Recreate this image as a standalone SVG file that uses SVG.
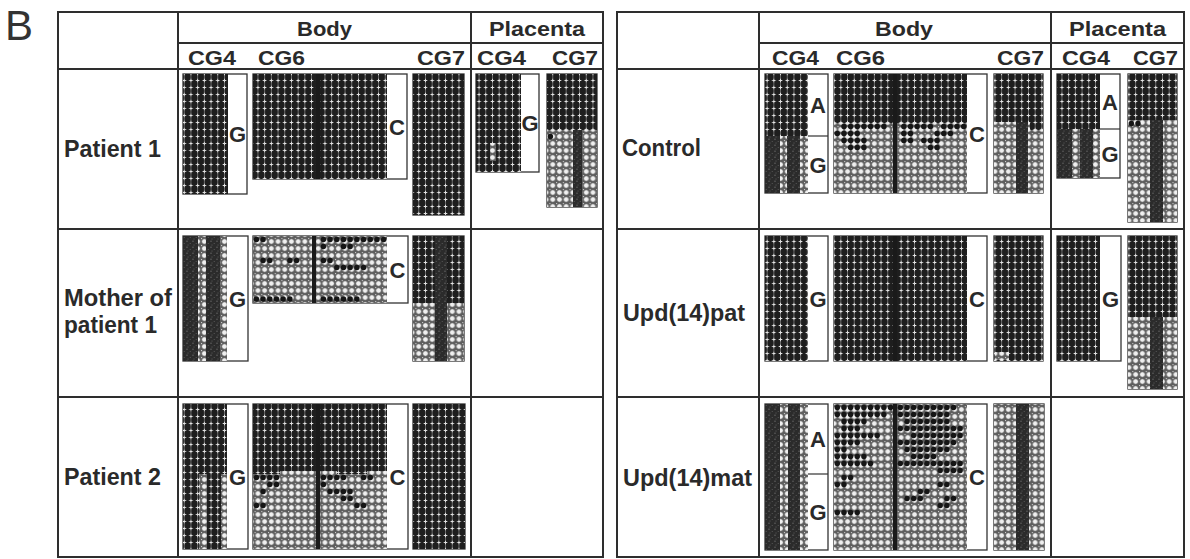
<svg xmlns="http://www.w3.org/2000/svg" width="1190" height="559" viewBox="0 0 1190 559">
<style>
.tbl{fill:none;stroke:#2e2e2e;stroke-width:2}
.box{fill:#fff;stroke:#333;stroke-width:1.3}
.met{fill:url(#met)}
.unm{fill:url(#unm)}
.dk{fill:url(#dk)}
.div{fill:#1a1a1a}
.dl{fill:none;stroke:#161616;stroke-width:5.4;stroke-linecap:round;stroke-dasharray:0 6.7}
.dr{fill:none;stroke:#161616;stroke-width:5.4;stroke-linecap:round;stroke-dasharray:0 6.65}
.hd{font-family:"Liberation Sans",Arial,sans-serif;font-weight:bold;fill:#2a2a2a}
.h1{font-size:20px;text-anchor:middle}
.h2{font-size:20px}
.lb{font-size:23px}
.lt{font-family:"Liberation Sans",Arial,sans-serif;font-weight:bold;font-size:22px;fill:#2a2a2a;text-anchor:middle}
.sep{stroke:#333;stroke-width:1.2}
</style>
<defs>
<pattern id="met" patternUnits="userSpaceOnUse" width="6.7" height="7">
<rect width="6.7" height="7" fill="#1e1e1e"/>
<path d="M3.35 0V7" stroke="#bdbdbd" stroke-width="0.5"/>
<path d="M3.35 1.8V5.2M1.6 3.5H5.1" stroke="#e4e4e4" stroke-width="1"/>
</pattern>
<pattern id="unm" patternUnits="userSpaceOnUse" width="6.7" height="7">
<rect width="6.7" height="7" fill="#5e5e5e"/>
<circle cx="3.35" cy="3.5" r="2.7" fill="#efefef" stroke="#4a4a4a" stroke-width="0.6"/>
<circle cx="0" cy="0" r="1.2" fill="#d0d0d0"/>
</pattern>
<pattern id="dk" patternUnits="userSpaceOnUse" width="6" height="6">
<rect width="6" height="6" fill="#2b2b2b"/>
<circle cx="1" cy="1.2" r="0.6" fill="#7a7a7a"/>
<circle cx="4.2" cy="3.4" r="0.5" fill="#666"/>
<circle cx="2" cy="5" r="0.45" fill="#888"/>
</pattern>
</defs>
<rect width="1190" height="559" fill="#fff"/>
<text x="5" y="40" font-family="'Liberation Sans',Arial,sans-serif" font-size="42" fill="#333">B</text>

<g id="connectors">
<rect class="tbl" x="58" y="12" width="545" height="545"/>
<path class="tbl" d="M178 12V557M471 12V557M178 43H603M58 69H603M58 229H603M58 397H603"/>
<rect class="tbl" x="617" y="12" width="567" height="545"/>
<path class="tbl" d="M759 12V557M1051 12V557M759 43H1184M617 69H1184M617 229H1184M617 397H1184"/>
</g>

<g id="headers" class="hd">
<text class="h1" x="324.5" y="36" textLength="55" lengthAdjust="spacingAndGlyphs">Body</text>
<text class="h1" x="537" y="36" textLength="96" lengthAdjust="spacingAndGlyphs">Placenta</text>
<text class="h1" x="904" y="36" textLength="58" lengthAdjust="spacingAndGlyphs">Body</text>
<text class="h1" x="1117.5" y="36" textLength="97" lengthAdjust="spacingAndGlyphs">Placenta</text>
<text class="h2" x="188" y="65" textLength="48" lengthAdjust="spacingAndGlyphs">CG4</text>
<text class="h2" x="258" y="65" textLength="47" lengthAdjust="spacingAndGlyphs">CG6</text>
<text class="h2" x="417" y="65" textLength="48" lengthAdjust="spacingAndGlyphs">CG7</text>
<text class="h2" x="477" y="65" textLength="49" lengthAdjust="spacingAndGlyphs">CG4</text>
<text class="h2" x="552" y="65" textLength="46" lengthAdjust="spacingAndGlyphs">CG7</text>
<text class="h2" x="772" y="65" textLength="47" lengthAdjust="spacingAndGlyphs">CG4</text>
<text class="h2" x="836" y="65" textLength="49" lengthAdjust="spacingAndGlyphs">CG6</text>
<text class="h2" x="997" y="65" textLength="47" lengthAdjust="spacingAndGlyphs">CG7</text>
<text class="h2" x="1062" y="65" textLength="48" lengthAdjust="spacingAndGlyphs">CG4</text>
<text class="h2" x="1133" y="65" textLength="45" lengthAdjust="spacingAndGlyphs">CG7</text>
</g>

<g id="row-labels" class="hd lb">
<text x="64" y="157" textLength="97" lengthAdjust="spacingAndGlyphs">Patient 1</text>
<text x="64" y="306" textLength="108" lengthAdjust="spacingAndGlyphs">Mother of</text>
<text x="64" y="333" textLength="93" lengthAdjust="spacingAndGlyphs">patient 1</text>
<text x="64" y="485" textLength="97" lengthAdjust="spacingAndGlyphs">Patient 2</text>
<text x="622" y="156" textLength="79" lengthAdjust="spacingAndGlyphs">Control</text>
<text x="623" y="321" textLength="122" lengthAdjust="spacingAndGlyphs">Upd(14)pat</text>
<text x="623" y="486" textLength="129" lengthAdjust="spacingAndGlyphs">Upd(14)mat</text>
</g>

<!-- Patient 1 -->
<g id="L1-body-cg4">
<rect class="box" x="183" y="74" width="64" height="120"/>
<rect class="met" x="183" y="74" width="45" height="120"/>
<text class="lt" x="237.5" y="142">G</text>
</g>
<g id="L1-body-cg6">
<rect class="box" x="253" y="74" width="154" height="105"/>
<rect class="met" x="253" y="74" width="134" height="105"/>
<rect class="div" x="316" y="74" width="4" height="105"/>
<text class="lt" x="397" y="134.5">C</text>
</g>
<g id="L1-body-cg7">
<rect class="box" x="413" y="74" width="51" height="141"/>
<rect class="met" x="413" y="74" width="51" height="141"/>
</g>
<g id="L1-pl-cg4">
<rect class="box" x="476" y="74" width="63" height="98"/>
<rect class="met" x="476" y="74" width="45" height="98"/>
<rect class="unm" x="490" y="143" width="6" height="18"/>
<text class="lt" x="530" y="131">G</text>
</g>
<g id="L1-pl-cg7">
<rect class="box" x="547" y="74" width="50" height="133"/>
<rect class="unm" x="547" y="130" width="50" height="77"/>
<rect class="met" x="547" y="74" width="50" height="56"/>
<rect class="dk" x="573" y="130" width="9" height="77"/>
<path class="dl" d="M550.4 136.5H557M590.6 136.5M550.4 150.5M563.8 157.5M590.6 164.5M550.4 178.5M590.6 185.5M557 192.5M590.6 199.5"/>
</g>

<!-- Mother of patient 1 -->
<g id="L2-body-cg4">
<rect class="box" x="183" y="236" width="65" height="125"/>
<rect class="dk" x="183" y="236" width="44" height="125"/>
<rect class="unm" x="198" y="236" width="8" height="125"/>
<rect class="unm" x="220" y="236" width="7" height="125"/>
<path class="dl" d="M202 272M202 325M223.5 266M223.5 350"/>
<text class="lt" x="237.5" y="306.5">G</text>
</g>
<g id="L2-body-cg6">
<rect class="box" x="253" y="236" width="155" height="67"/>
<rect class="unm" x="253" y="236" width="134" height="67"/>
<rect class="div" x="312" y="236" width="4" height="67"/>
<path class="dl" d="M256.4 239.5H263.1M323.4 239.5H383.7M323.4 246.5H330M343.5 246.5H356.9M377 246.5M263.1 260.5H276.5M289.9 260.5H296.6M323.4 260.5H336.8M350.2 260.5M336.8 267.5H363.6M370.3 267.5M256.4 299H289.9M323.4 299H356.9M370.3 299"/>
<text class="lt" x="397.5" y="277.5">C</text>
</g>
<g id="L2-body-cg7">
<rect class="box" x="413" y="236" width="51" height="125"/>
<rect class="unm" x="413" y="303" width="51" height="58"/>
<rect class="met" x="413" y="236" width="51" height="67"/>
<rect class="dk" x="435" y="236" width="12" height="125"/>
</g>

<!-- Patient 2 -->
<g id="L3-body-cg4">
<rect class="box" x="183" y="404" width="65" height="145"/>
<rect class="met" x="183" y="404" width="44" height="145"/>
<rect class="unm" x="199" y="474" width="8" height="75"/>
<rect class="unm" x="221" y="474" width="6" height="75"/>
<path class="dl" d="M203 492M203 520M224 483M224 505"/>
<text class="lt" x="237.5" y="484.5">G</text>
</g>
<g id="L3-body-cg6">
<rect class="box" x="253" y="404" width="155" height="145"/>
<rect class="unm" x="253" y="404" width="134" height="145"/>
<rect class="met" x="253" y="404" width="134" height="67"/>
<rect class="met" x="253" y="471" width="27" height="3"/>
<rect class="met" x="337" y="471" width="30" height="3"/>
<path class="dl" d="M256.4 477.5H276.5M289.9 477.5M323.4 477.5H343.5M363.6 477.5H377M256.4 484.5M269.8 484.5H276.5M296.6 484.5M323.4 484.5H330M350.2 484.5M377 484.5M263.1 491.5H269.8M283.2 491.5M330 491.5H350.2M370.3 491.5M269.8 498.5M283.2 498.5M296.6 498.5M323.4 498.5M343.5 498.5H350.2M363.6 498.5M377 498.5M256.4 505.5H269.8M283.2 505.5M330 505.5M356.9 505.5H370.3M383.7 505.5M283.2 512.5M336.8 512.5M363.6 512.5"/>
<rect class="div" x="316" y="404" width="4" height="145"/>
<text class="lt" x="397.5" y="484.5">C</text>
</g>
<g id="L3-body-cg7">
<rect class="box" x="413" y="404" width="52" height="145"/>
<rect class="met" x="413" y="404" width="52" height="145"/>
</g>

<!-- Control -->
<g id="R1-body-cg4">
<rect class="box" x="765" y="74" width="63" height="119"/>
<path class="sep" d="M808 136H828"/>
<rect class="met" x="765" y="74" width="43" height="62"/>
<rect class="dk" x="765" y="136" width="43" height="57"/>
<rect class="unm" x="780" y="136" width="7" height="57"/>
<rect class="unm" x="800" y="136" width="8" height="57"/>
<path class="dr" d="M783.5 145M783.5 159M803.5 166"/>
<text class="lt" x="818" y="113">A</text>
<text class="lt" x="818" y="172.5">G</text>
</g>
<g id="R1-body-cg6">
<rect class="box" x="834" y="74" width="153" height="119"/>
<rect class="unm" x="834" y="74" width="133" height="119"/>
<rect class="met" x="834" y="74" width="133" height="49"/>
<path class="dr" d="M844 126.5H883.9M903.8 126.5H930.4M943.7 126.5H963.7M837.3 133.5H857.3M877.2 133.5M903.8 133.5H917.1M937.1 133.5H957M844 140.5H870.6M903.8 140.5H910.5M923.8 140.5H943.7M850.6 147.5H863.9M930.4 147.5H937.1"/>
<rect class="div" x="893" y="74" width="4" height="119"/>
<text class="lt" x="977" y="141.5">C</text>
</g>
<g id="R1-body-cg7">
<rect class="box" x="994" y="74" width="49" height="119"/>
<rect class="unm" x="994" y="122" width="49" height="71"/>
<rect class="met" x="994" y="74" width="49" height="48"/>
<rect class="met" x="1030" y="122" width="13" height="8"/>
<rect class="dk" x="1016" y="122" width="12" height="71"/>
</g>
<g id="R1-pl-cg4">
<rect class="box" x="1057" y="74" width="63" height="104"/>
<path class="sep" d="M1100 129H1120"/>
<rect class="met" x="1057" y="74" width="43" height="55"/>
<rect class="dk" x="1057" y="129" width="43" height="49"/>
<rect class="unm" x="1072" y="129" width="8" height="49"/>
<rect class="unm" x="1093" y="129" width="7" height="49"/>
<text class="lt" x="1110" y="109.5">A</text>
<text class="lt" x="1110" y="161.5">G</text>
</g>
<g id="R1-pl-cg7">
<rect class="box" x="1128" y="74" width="49" height="148"/>
<rect class="unm" x="1128" y="120" width="49" height="102"/>
<rect class="met" x="1128" y="74" width="49" height="46"/>
<rect class="dk" x="1150" y="120" width="13" height="102"/>
<path class="dr" d="M1131.3 123.5H1144.6M1170.5 127M1170.5 134"/>
</g>

<!-- Upd(14)pat -->
<g id="R2-body-cg4">
<rect class="box" x="765" y="236" width="63" height="125"/>
<rect class="met" x="765" y="236" width="43" height="125"/>
<text class="lt" x="818" y="306.5">G</text>
</g>
<g id="R2-body-cg6">
<rect class="box" x="834" y="236" width="153" height="125"/>
<rect class="met" x="834" y="236" width="133" height="125"/>
<rect class="div" x="893" y="236" width="4" height="125"/>
<text class="lt" x="977" y="306.5">C</text>
</g>
<g id="R2-body-cg7">
<rect class="box" x="994" y="236" width="49" height="125"/>
<rect class="met" x="994" y="236" width="49" height="125"/>
<rect class="unm" x="995" y="352" width="14" height="8"/>
</g>
<g id="R2-pl-cg4">
<rect class="box" x="1057" y="236" width="64" height="125"/>
<rect class="met" x="1057" y="236" width="43" height="125"/>
<text class="lt" x="1110.5" y="306.5">G</text>
</g>
<g id="R2-pl-cg7">
<rect class="box" x="1128" y="236" width="49" height="153"/>
<rect class="unm" x="1128" y="317" width="49" height="72"/>
<rect class="met" x="1128" y="236" width="49" height="81"/>
<rect class="dk" x="1150" y="317" width="13" height="72"/>
</g>

<!-- Upd(14)mat -->
<g id="R3-body-cg4">
<rect class="box" x="765" y="404" width="63" height="146"/>
<path class="sep" d="M808 474H828"/>
<rect class="dk" x="765" y="404" width="43" height="146"/>
<rect class="unm" x="780" y="404" width="8" height="146"/>
<rect class="unm" x="800" y="404" width="8" height="146"/>
<path class="dr" d="M784 472"/>
<text class="lt" x="818" y="447">A</text>
<text class="lt" x="818" y="520">G</text>
</g>
<g id="R3-body-cg6">
<rect class="box" x="834" y="404" width="153" height="146"/>
<rect class="unm" x="834" y="404" width="133" height="146"/>
<path class="dr" d="M837.3 407.5H890.5M900.3 407.5H953.5M837.3 414.5H883.9M900.3 414.5H946.9M844 421.5H870.6M877.2 421.5M907 421.5H953.5M844 428.5H863.9M900.3 428.5H960.2M837.3 435.5H877.2M913.6 435.5H960.2M837.3 442.5H857.3M877.2 442.5M900.3 442.5H953.5M837.3 449.5H850.6M907 449.5H946.9M837.3 456.5H863.9M913.6 456.5H933.6M953.5 456.5M837.3 463.5H870.6M900.3 463.5H960.2M844 470.5M940.2 470.5H960.2M844 477.5H857.3M870.6 477.5M907 477.5M960.2 477.5M837.3 484.5H850.6M877.2 484.5M900.3 484.5M940.2 484.5H953.5M920.3 491.5H933.6M960.2 491.5M837.3 498.5M877.2 498.5M907 498.5H926.9M946.9 498.5H960.2M850.6 505.5M940.2 505.5H953.5M837.3 512.5H857.3M933.6 512.5M960.2 512.5M926.9 519.5M946.9 519.5M960.2 519.5M926.9 526.5M960.2 526.5M960.2 540.5"/>
<rect class="div" x="893" y="404" width="4" height="146"/>
<text class="lt" x="977" y="485">C</text>
</g>
<g id="R3-body-cg7">
<rect class="box" x="994" y="404" width="50" height="146"/>
<rect class="unm" x="994" y="404" width="50" height="146"/>
<rect class="dk" x="1016" y="404" width="13" height="146"/>
<path class="dr" d="M997.5 545"/>
</g>
</svg>
